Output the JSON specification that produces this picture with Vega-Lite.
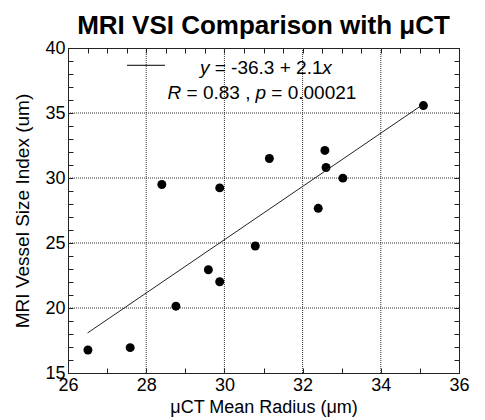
{
  "$schema": "https://vega.github.io/schema/vega-lite/v6.json",
  "autosize": {"type": "none"},
  "padding": {"left": 68, "top": 48, "right": 26, "bottom": 47},
  "width": 391,
  "height": 325,
  "background": "white",
  "config": {
    "font": "Liberation Sans",
    "view": {"stroke": "#222", "strokeWidth": 1},
    "axis": {"grid": false, "labelFont": "Liberation Sans", "titleFont": "Liberation Sans", "labelColor": "black", "titleColor": "black", "domainColor": "#222", "tickColor": "#222"}
  },
  "title": {"text": "MRI VSI Comparison with μCT", "fontSize": 26, "fontWeight": "bold", "font": "Liberation Sans", "anchor": "middle", "offset": 0, "color": "black"},
  "datasets": {
    "pts": [
      {"radius": 26.51, "vsi": 16.77},
      {"radius": 27.59, "vsi": 16.95},
      {"radius": 28.40, "vsi": 29.50},
      {"radius": 28.76, "vsi": 20.14},
      {"radius": 29.59, "vsi": 22.94},
      {"radius": 29.88, "vsi": 22.02},
      {"radius": 29.88, "vsi": 29.24},
      {"radius": 30.79, "vsi": 24.77},
      {"radius": 31.15, "vsi": 31.50},
      {"radius": 32.40, "vsi": 27.67},
      {"radius": 32.57, "vsi": 32.12},
      {"radius": 32.60, "vsi": 30.81},
      {"radius": 33.03, "vsi": 29.99},
      {"radius": 35.09, "vsi": 35.57}
    ],
    "fit": [
      {"radius": 26.5, "vsi": 18.08},
      {"radius": 35.05, "vsi": 35.6}
    ],
    "gridX": [{"v": 28}, {"v": 30}, {"v": 32}, {"v": 34}],
    "gridY": [{"v": 20}, {"v": 25}, {"v": 30}, {"v": 35}],
    "key": [
      {"x1": 27.51, "x2": 28.48, "y": 38.67}
    ],
    "italicRight": [
      {"x": 29.617, "y": 38.03, "t": "y"},
      {"x": 28.895, "y": 36.11, "t": "R"}
    ],
    "italicLeft": [
      {"x": 32.50, "y": 38.03, "t": "x"},
      {"x": 30.796, "y": 36.11, "t": "p"}
    ],
    "normalLeft": [
      {"x": 29.753, "y": 38.03, "t": "= -36.3 + 2.1"},
      {"x": 29.031, "y": 36.11, "t": "= 0.83 ,"},
      {"x": 31.20, "y": 36.11, "t": "= 0.00021"}
    ]
  },
  "layer": [
    {
      "data": {"name": "gridX"},
      "mark": {"type": "rule", "color": "#333", "strokeWidth": 1, "strokeDash": [1, 1]},
      "encoding": {
        "x": {"field": "v", "type": "quantitative", "scale": {"domain": [26, 36], "nice": false, "zero": false}, "axis": null}
      }
    },
    {
      "data": {"name": "gridY"},
      "mark": {"type": "rule", "color": "#333", "strokeWidth": 1, "strokeDash": [1, 1]},
      "encoding": {
        "y": {"field": "v", "type": "quantitative", "scale": {"domain": [15, 40], "nice": false, "zero": false}, "axis": null}
      }
    },
    {
      "data": {"name": "pts"},
      "mark": {"type": "point", "filled": true, "color": "black", "opacity": 1, "size": 80},
      "encoding": {
        "x": {
          "field": "radius", "type": "quantitative",
          "scale": {"domain": [26, 36], "nice": false, "zero": false},
          "axis": {
            "orient": "bottom",
            "values": [26, 26.5, 27, 27.5, 28, 28.5, 29, 29.5, 30, 30.5, 31, 31.5, 32, 32.5, 33, 33.5, 34, 34.5, 35, 35.5, 36],
            "format": "d",
            "labelExpr": "datum.value % 2 === 0 ? datum.label : ''",
            "labelFlush": false,
            "labelOverlap": false,
            "labelFontSize": 18,
            "labelPadding": 8,
            "tickSize": -5,
            "grid": false,
            "title": "μCT Mean Radius (μm)",
            "titleFontSize": 18,
            "titleFontWeight": "normal",
            "titlePadding": 4
          }
        },
        "y": {
          "field": "vsi", "type": "quantitative",
          "scale": {"domain": [15, 40], "nice": false, "zero": false},
          "axis": {
            "orient": "left",
            "values": [15, 16, 17, 18, 19, 20, 21, 22, 23, 24, 25, 26, 27, 28, 29, 30, 31, 32, 33, 34, 35, 36, 37, 38, 39, 40],
            "format": "d",
            "labelExpr": "datum.value % 5 === 0 ? datum.label : ''",
            "labelFlush": false,
            "labelOverlap": false,
            "labelFontSize": 18,
            "labelPadding": 8,
            "tickSize": -5,
            "grid": false,
            "title": "MRI Vessel Size Index (um)",
            "titleFontSize": 19,
            "titleFontWeight": "normal",
            "titlePadding": 12
          }
        }
      }
    },
    {
      "data": {"name": "fit"},
      "mark": {"type": "line", "color": "#222", "strokeWidth": 1},
      "encoding": {
        "x": {
          "field": "radius", "type": "quantitative",
          "axis": {
            "orient": "top",
            "values": [26, 26.5, 27, 27.5, 28, 28.5, 29, 29.5, 30, 30.5, 31, 31.5, 32, 32.5, 33, 33.5, 34, 34.5, 35, 35.5, 36],
            "labels": false, "grid": false, "tickSize": -5, "title": null
          }
        },
        "y": {
          "field": "vsi", "type": "quantitative",
          "axis": {
            "orient": "right",
            "values": [15, 16, 17, 18, 19, 20, 21, 22, 23, 24, 25, 26, 27, 28, 29, 30, 31, 32, 33, 34, 35, 36, 37, 38, 39, 40],
            "labels": false, "grid": false, "tickSize": -5, "title": null
          }
        }
      }
    },
    {
      "data": {"name": "key"},
      "mark": {"type": "rule", "color": "black", "strokeWidth": 1},
      "encoding": {
        "x": {"field": "x1", "type": "quantitative", "axis": null},
        "x2": {"field": "x2"},
        "y": {"field": "y", "type": "quantitative", "axis": null}
      }
    },
    {
      "data": {"name": "italicRight"},
      "mark": {"type": "text", "fontSize": 19, "fontStyle": "italic", "align": "right", "baseline": "alphabetic", "color": "black"},
      "encoding": {
        "x": {"field": "x", "type": "quantitative", "axis": null},
        "y": {"field": "y", "type": "quantitative", "axis": null},
        "text": {"field": "t"}
      }
    },
    {
      "data": {"name": "italicLeft"},
      "mark": {"type": "text", "fontSize": 19, "fontStyle": "italic", "align": "left", "baseline": "alphabetic", "color": "black"},
      "encoding": {
        "x": {"field": "x", "type": "quantitative", "axis": null},
        "y": {"field": "y", "type": "quantitative", "axis": null},
        "text": {"field": "t"}
      }
    },
    {
      "data": {"name": "normalLeft"},
      "mark": {"type": "text", "fontSize": 19, "align": "left", "baseline": "alphabetic", "color": "black"},
      "encoding": {
        "x": {"field": "x", "type": "quantitative", "axis": null},
        "y": {"field": "y", "type": "quantitative", "axis": null},
        "text": {"field": "t"}
      }
    }
  ],
  "resolve": {"axis": {"x": "independent", "y": "independent"}}
}
